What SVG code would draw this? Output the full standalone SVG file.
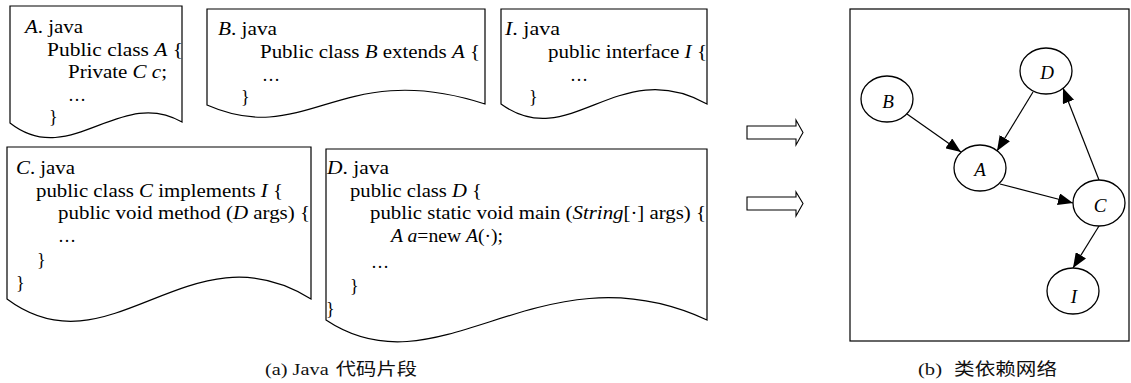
<svg xmlns="http://www.w3.org/2000/svg" width="1131" height="383" viewBox="0 0 1131 383">
<style>
.doc{fill:#fff;stroke:#000;stroke-width:1.2}
.t{font-family:"Liberation Serif","Times New Roman",serif;font-size:18px;fill:#000}
.i{font-style:italic}
.cap{font-family:"Liberation Serif",serif;font-size:17px;fill:#111}
.cjk{font-family:"Noto Sans CJK SC","Noto Sans",sans-serif}
.node{fill:#fff;stroke:#000;stroke-width:1.3}
.lbl{font-family:"Liberation Serif",serif;font-style:italic;font-size:19px;text-anchor:middle;fill:#000}
.edge{stroke:#000;stroke-width:1.2;fill:none}
.hollow{fill:#fff;stroke:#000;stroke-width:1.1}
</style>
<defs>
<marker id="ah" markerUnits="userSpaceOnUse" markerWidth="16" markerHeight="12" refX="15" refY="6" orient="auto">
<path d="M0,0 L15,6 L0,12 Z" fill="#000"/>
</marker>
</defs>

<g id="docA">
<path class="doc" d="M10,6 H182 V122 C120,86 70,170 10,123 Z"/>
<text class="t" x="25" y="33" textLength="58" lengthAdjust="spacingAndGlyphs"><tspan class="i">A</tspan>. java</text>
<text class="t" x="47" y="56" textLength="136" lengthAdjust="spacingAndGlyphs">Public class <tspan class="i">A</tspan>  {</text>
<text class="t" x="68" y="78" textLength="99" lengthAdjust="spacingAndGlyphs">Private <tspan class="i">C c</tspan>;</text>
<text class="t" x="68" y="101">…</text>
<text class="t" x="49" y="123">}</text>
</g>

<g id="docB">
<path class="doc" d="M207,9 H485 V104 C340,57 307,149 207,105 Z"/>
<text class="t" x="218" y="35" textLength="59" lengthAdjust="spacingAndGlyphs"><tspan class="i">B</tspan>. java</text>
<text class="t" x="260" y="58" textLength="220" lengthAdjust="spacingAndGlyphs">Public class <tspan class="i">B</tspan> extends <tspan class="i">A</tspan> {</text>
<text class="t" x="262" y="81">…</text>
<text class="t" x="241" y="103">}</text>
</g>

<g id="docI">
<path class="doc" d="M501,9 H707 V104 C618,54 570,154 501,104 Z"/>
<text class="t" x="505" y="35" textLength="55" lengthAdjust="spacingAndGlyphs"><tspan class="i">I</tspan>. java</text>
<text class="t" x="548" y="58" textLength="159" lengthAdjust="spacingAndGlyphs">public interface <tspan class="i">I</tspan> {</text>
<text class="t" x="570" y="81">…</text>
<text class="t" x="529" y="103">}</text>
</g>

<g id="docC">
<path class="doc" d="M7,147 H311 V299 C190,223 110,376 7,299 Z"/>
<text class="t" x="16" y="174" textLength="59" lengthAdjust="spacingAndGlyphs"><tspan class="i">C</tspan>. java</text>
<text class="t" x="36" y="197" textLength="247" lengthAdjust="spacingAndGlyphs">public class <tspan class="i">C</tspan> implements <tspan class="i">I</tspan> {</text>
<text class="t" x="58" y="219" textLength="252" lengthAdjust="spacingAndGlyphs">public void method (<tspan class="i">D</tspan> args) {</text>
<text class="t" x="58" y="242">…</text>
<text class="t" x="37" y="266">}</text>
<text class="t" x="16" y="289">}</text>
</g>

<g id="docD">
<path class="doc" d="M326,149 H707 V320 C540,243 440,396 326,320 Z"/>
<text class="t" x="327" y="174" textLength="62" lengthAdjust="spacingAndGlyphs"><tspan class="i">D</tspan>. java</text>
<text class="t" x="350" y="197" textLength="132" lengthAdjust="spacingAndGlyphs">public class <tspan class="i">D</tspan> {</text>
<text class="t" x="370" y="219" textLength="336" lengthAdjust="spacingAndGlyphs">public static void main (<tspan class="i">String</tspan>[·] args) {</text>
<text class="t" x="391" y="242" textLength="112" lengthAdjust="spacingAndGlyphs"><tspan class="i">A a</tspan>=new <tspan class="i">A</tspan>(·);</text>
<text class="t" x="371" y="268">…</text>
<text class="t" x="350" y="292">}</text>
<text class="t" x="326" y="315">}</text>
</g>

<g id="arrows">
<polygon class="hollow" points="747,126 796,126 796,120 803,132.5 796,145 796,139 747,139"/>
<polygon class="hollow" points="747,197 796,197 796,192 803,203.5 796,216 796,210 747,210"/>
</g>

<g id="network">
<rect x="850" y="9" width="279" height="332" fill="#fff" stroke="#000" stroke-width="1.2"/>
</g>

<g id="connectors">
<line class="edge" x1="907" y1="114" x2="961" y2="152" marker-end="url(#ah)"/>
<line class="edge" x1="1033" y1="92" x2="997" y2="151" marker-end="url(#ah)"/>
<line class="edge" x1="1000" y1="184" x2="1073" y2="203" marker-end="url(#ah)"/>
<line class="edge" x1="1099" y1="180" x2="1063" y2="88" marker-end="url(#ah)"/>
<line class="edge" x1="1099" y1="226" x2="1073" y2="268" marker-end="url(#ah)"/>
</g>

<g id="nodeB"><ellipse class="node" cx="887" cy="99" rx="26" ry="23"/><text class="lbl" x="888" y="108">B</text></g>
<g id="nodeD"><ellipse class="node" cx="1046" cy="71" rx="26" ry="23"/><text class="lbl" x="1047" y="79">D</text></g>
<g id="nodeA"><ellipse class="node" cx="980" cy="168" rx="26" ry="23"/><text class="lbl" x="980" y="176">A</text></g>
<g id="nodeC"><ellipse class="node" cx="1099" cy="203" rx="26" ry="23"/><text class="lbl" x="1100" y="212">C</text></g>
<g id="nodeI"><ellipse class="node" cx="1073" cy="291" rx="26" ry="23"/><text class="lbl" x="1074" y="303">I</text></g>

<g id="captions">
<text class="cap" x="265" y="375" textLength="152" lengthAdjust="spacingAndGlyphs">(a) Java<tspan class="cjk" dx="6">代码片段</tspan></text>
<text class="cap" x="918" y="375" textLength="139" lengthAdjust="spacingAndGlyphs">(b)<tspan class="cjk" dx="10">类依赖网络</tspan></text>
</g>
</svg>
